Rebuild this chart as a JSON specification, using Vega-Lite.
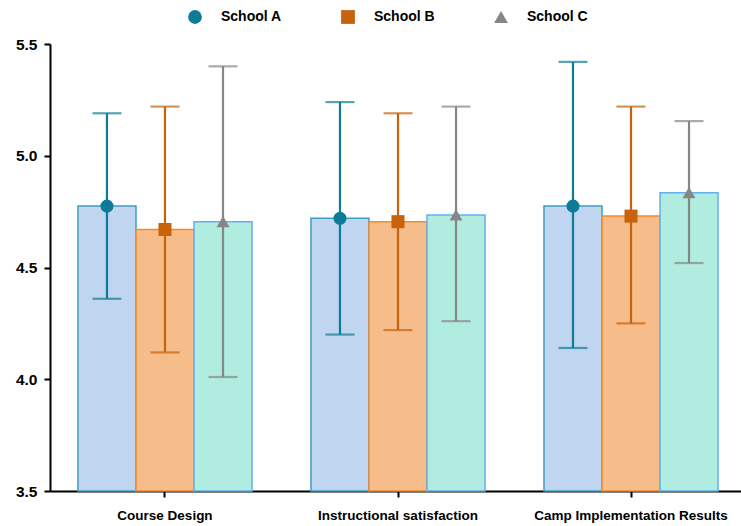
{
  "$schema": "https://vega.github.io/schema/vega-lite/v6.json",
  "width": 696,
  "height": 447,
  "autosize": {"type": "none"},
  "padding": {"left": 50, "top": 44, "right": 0, "bottom": 35},
  "background": "white",
  "config": {
    "view": {"stroke": null},
    "font": "Liberation Sans",
    "axis": {"grid": false, "domainColor": "black", "domainWidth": 2, "tickColor": "black", "tickWidth": 2, "labelColor": "black", "labelFontWeight": "bold", "title": null}
  },
  "data": {
    "values": [
      {"group": "Course Design", "school": "School A", "mean": 4.775, "lo": 4.36, "hi": 5.19},
      {"group": "Course Design", "school": "School B", "mean": 4.67, "lo": 4.12, "hi": 5.22},
      {"group": "Course Design", "school": "School C", "mean": 4.705, "lo": 4.01, "hi": 5.40},
      {"group": "Instructional satisfaction", "school": "School A", "mean": 4.72, "lo": 4.20, "hi": 5.24},
      {"group": "Instructional satisfaction", "school": "School B", "mean": 4.705, "lo": 4.22, "hi": 5.19},
      {"group": "Instructional satisfaction", "school": "School C", "mean": 4.735, "lo": 4.26, "hi": 5.22},
      {"group": "Camp Implementation Results", "school": "School A", "mean": 4.775, "lo": 4.14, "hi": 5.42},
      {"group": "Camp Implementation Results", "school": "School B", "mean": 4.73, "lo": 4.25, "hi": 5.22},
      {"group": "Camp Implementation Results", "school": "School C", "mean": 4.835, "lo": 4.52, "hi": 5.155}
    ]
  },
  "encoding": {
    "x": {
      "field": "group", "type": "nominal", "sort": null,
      "scale": {"paddingInner": 0.253, "paddingOuter": 0.12},
      "axis": {"labelAngle": 0, "labelFontSize": 13.5, "tickSize": 6, "labelPadding": 11, "labelLimit": 0}
    },
    "xOffset": {"field": "school", "type": "nominal", "scale": {"paddingInner": 0, "paddingOuter": 0}}
  },
  "layer": [
    {
      "mark": {"type": "bar", "strokeWidth": 1.5},
      "encoding": {
        "y": {"field": "mean", "type": "quantitative", "scale": {"domain": [3.5, 5.5], "zero": false, "nice": false},
          "axis": {"values": [3.5, 4.0, 4.5, 5.0, 5.5], "format": ".1f", "labelFontSize": 15.5, "tickSize": 6, "labelPadding": 7}},
        "y2": {"datum": 3.5},
        "fill": {"field": "school", "type": "nominal", "legend": null,
          "scale": {"range": ["#c0d5ef", "#f6bd8a", "#b0ecdf"]}},
        "stroke": {"field": "school", "type": "nominal", "legend": null,
          "scale": {"range": ["#3d9fc2", "#f28a2e", "#62b0ee"]}}
      }
    },
    {
      "mark": {"type": "rule", "strokeWidth": 2.2},
      "encoding": {
        "y": {"field": "lo", "type": "quantitative"},
        "y2": {"field": "hi"},
        "color": {"field": "school", "type": "nominal", "title": null,
          "scale": {"domain": ["School A", "School B", "School C"], "range": ["#0f7c97", "#c7620d", "#868686"]},
          "legend": {"orient": "none", "legendX": 138, "legendY": -34, "direction": "horizontal", "gridAlign": "none", "labelFontSize": 14, "labelFontWeight": "bold", "labelColor": "black", "symbolSize": 190, "labelOffset": 19, "columnPadding": 59, "symbolStrokeWidth": 0, "symbolOpacity": 1,
            "encode": {"symbols": {"update": {"opacity": {"value": 1}, "fillOpacity": {"value": 1}}}}}}
      }
    },
    {
      "mark": {"type": "tick", "thickness": 2.2, "size": 29},
      "encoding": {
        "y": {"field": "lo", "type": "quantitative"},
        "color": {"field": "school", "type": "nominal", "title": null}
      }
    },
    {
      "mark": {"type": "tick", "thickness": 2.2, "size": 29},
      "encoding": {
        "y": {"field": "hi", "type": "quantitative"},
        "color": {"field": "school", "type": "nominal", "title": null}
      }
    },
    {
      "mark": {"type": "point", "filled": true, "opacity": 1, "size": 170},
      "encoding": {
        "y": {"field": "mean", "type": "quantitative"},
        "color": {"field": "school", "type": "nominal", "title": null},
        "shape": {"field": "school", "type": "nominal", "title": null,
          "scale": {"domain": ["School A", "School B", "School C"], "range": ["circle", "square", "triangle-up"]}}
      }
    }
  ]
}
